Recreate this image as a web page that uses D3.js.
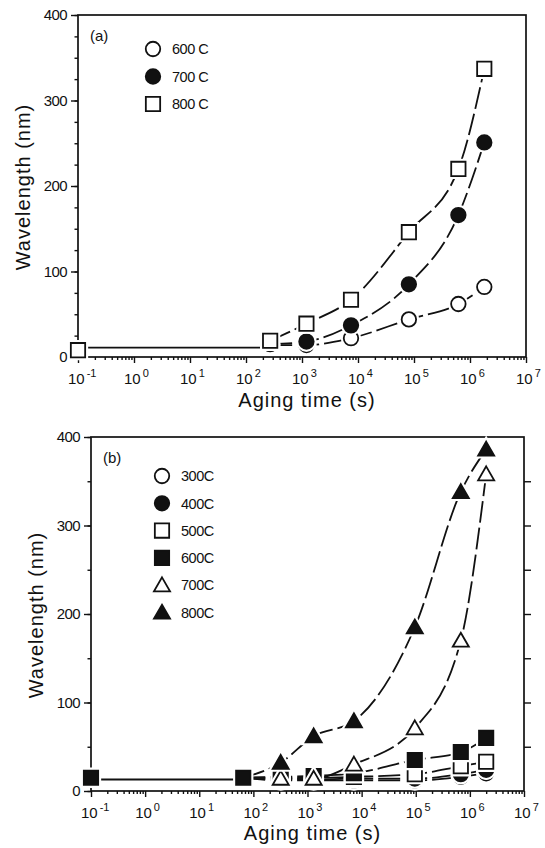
<!DOCTYPE html>
<html>
<head>
<meta charset="utf-8">
<script src="https://cdn.jsdelivr.net/npm/d3@7"></script>
<style>
  body { margin: 0; background: #fff; }
  svg text { font-family: "Liberation Sans", Arial, sans-serif; fill: #111; }
  .axis line { stroke: #111; stroke-width: 1.4; }
  .axis path { display: none; }
</style>
</head>
<body>
<div id="vis"></div>
<script>
// ---- panel (a) ----
var timesA = [270, 1200, 7500, 81000, 620000, 1800000];
var a600 = [14, 14, 22, 44, 62, 82];
var a700 = [15, 18, 37, 85, 166, 251];
var a800 = [19, 39, 67, 146, 220, 337];
var initA = [[0.1, 8]];
var baseA = [[0.1, 11], [270, 11]];
var labelsA = ['600 C', '700 C', '800 C'];

// ---- panel (b) ----
var timesB = [320, 1300, 7200, 96000, 680000, 2000000];
var b300 = [12, 12, 12, 12, 16, 20];
var b400 = [13, 13, 14, 14, 19, 24];
var b500 = [15, 15, 16, 19, 28, 33];
var b600 = [16, 17, 20, 35, 44, 60];
var b700 = [14, 14, 30, 71, 170, 358];
var b800 = [32, 62, 79, 185, 338, 386];
var initB = [[0.1, 15], [65, 15]];
var baseB = [[0.1, 13], [65, 13]];
var labelsB = ['300C', '400C', '500C', '600C', '700C', '800C'];

var decades = [-1, 0, 1, 2, 3, 4, 5, 6, 7];
var yTicks = [0, 100, 200, 300, 400];

var width = 545, height = 848;

var svg = d3.select('#vis')
            .append('svg')
            .attr('width', width)
            .attr('height', height);

var shapes = {
    circle:   {type: d3.symbolCircle, size: 165},
    square:   {type: d3.symbolSquare, size: 205},
    triangle: {type: d3.symbolTriangle, size: 112}
};

var marker = (g, kind, filled, x, y) => {
    var s = shapes[kind];
    var path = d3.symbol().type(s.type).size(s.size)();
    var dy = kind == 'triangle' ? 1.5 : 0;
    g.append('path')
     .attr('d', path)
     .attr('transform', `translate(${x},${y + dy})`)
     .attr('fill', 'white')
     .attr('stroke', 'white')
     .attr('stroke-width', 6);
    g.append('path')
     .attr('d', path)
     .attr('transform', `translate(${x},${y + dy})`)
     .attr('fill', filled ? '#111' : 'white')
     .attr('stroke', '#111')
     .attr('stroke-width', 1.8);
};

var drawPanel = (p) => {
    var xScale = d3.scaleLog().domain([0.1, 1e7]).range([p.left, p.right]);
    var yScale = d3.scaleLinear().domain([0, 400]).range([p.bottom, p.top]);
    var g = svg.append('g');

    // minor + major ticks on x
    var minor = [];
    decades.slice(0, -1).forEach((d) => {
        for (var k = 2; k < 10; k++) minor.push(k * Math.pow(10, d));
    });
    g.append('g').attr('class', 'axis')
     .attr('transform', `translate(0,${p.bottom})`)
     .call(d3.axisBottom(xScale).tickValues(minor).tickSize(3).tickFormat(''));
    g.append('g').attr('class', 'axis')
     .attr('transform', `translate(0,${p.bottom})`)
     .call(d3.axisBottom(xScale).tickValues(decades.map((d) => Math.pow(10, d))).tickSize(6).tickFormat(''));

    // y ticks
    g.append('g').attr('class', 'axis')
     .attr('transform', `translate(${p.left},0)`)
     .call(d3.axisLeft(yScale).tickValues(d3.range(0, 401, p.minorStep)).tickSize(3.5).tickFormat(''));
    g.append('g').attr('class', 'axis')
     .attr('transform', `translate(${p.left},0)`)
     .call(d3.axisLeft(yScale).tickValues(yTicks).tickSize(7).tickFormat(''));
    if (p.rightTicks) {
        g.append('g').attr('class', 'axis')
         .attr('transform', `translate(${p.right},0)`)
         .call(d3.axisRight(yScale).tickValues(d3.range(50, 400, 50)).tickSize(7).tickFormat(''));
    }

    // frame
    g.append('rect')
     .attr('x', p.left).attr('y', p.top)
     .attr('width', p.right - p.left).attr('height', p.bottom - p.top)
     .attr('fill', 'none').attr('stroke', '#111').attr('stroke-width', 1.7);

    // y tick labels
    g.selectAll('.ylab').data(yTicks).enter()
     .append('text')
     .attr('x', p.left - 11)
     .attr('y', (d) => yScale(d))
     .attr('dy', '0.36em')
     .attr('text-anchor', 'end')
     .style('font-size', '15px')
     .style('letter-spacing', '-0.6px')
     .text((d) => d);

    // x tick labels 10^n
    var xl = g.selectAll('.xlab').data(decades).enter()
              .append('text')
              .attr('x', (d) => xScale(Math.pow(10, d)) - 10)
              .attr('y', p.bottom + 27)
              .style('font-size', '15px');
    xl.append('tspan').text('10');
    xl.append('tspan')
      .attr('dx', 2)
      .attr('dy', -7)
      .style('font-size', '11px')
      .text((d) => d < 0 ? '-' + (-d) : d);

    // axis titles
    g.append('text')
     .attr('x', (p.left + p.right) / 2 + 5)
     .attr('y', p.bottom + p.titleGap)
     .attr('text-anchor', 'middle')
     .style('font-size', '20px')
     .style('letter-spacing', '1px')
     .text('Aging time (s)');
    g.append('text')
     .attr('transform', `translate(${p.left - 48},${(p.top + p.bottom) / 2 + 1}) rotate(-90)`)
     .attr('text-anchor', 'middle')
     .style('font-size', '20px')
     .style('letter-spacing', '1px')
     .text('Wavelength (nm)');

    // panel tag
    g.append('text')
     .attr('x', p.left + 12).attr('y', p.top + 26)
     .style('font-size', '15px')
     .text(p.tag);

    // solid base line
    var line = d3.line()
                 .x((d) => xScale(d[0]))
                 .y((d) => yScale(d[1]));
    g.append('path')
     .attr('d', line(p.base))
     .attr('fill', 'none')
     .attr('stroke', '#111')
     .attr('stroke-width', 1.8);

    // dashed curves
    var curve = d3.line()
                  .curve(d3.curveMonotoneX)
                  .x((d) => xScale(d[0]))
                  .y((d) => yScale(d[1]));
    p.series.forEach((s) => {
        var pts = p.start.concat(p.times.map((t, i) => [t, s.values[i]]));
        g.append('path')
         .attr('d', curve(pts))
         .attr('fill', 'none')
         .attr('stroke', '#111')
         .attr('stroke-width', 1.8)
         .style('stroke-dasharray', '22, 5');
    });

    // markers
    p.init.forEach((d) => marker(g, 'square', p.initFilled, xScale(d[0]), yScale(d[1])));
    p.series.forEach((s) => {
        p.times.forEach((t, i) => marker(g, s.kind, s.filled, xScale(t), yScale(s.values[i])));
    });

    // legend
    p.series.forEach((s, i) => {
        var ly = p.legendY + i * p.legendStep;
        marker(g, s.kind, s.filled, p.legendX, ly);
        g.append('text')
         .attr('x', p.legendX + 19)
         .attr('y', ly)
         .attr('dy', '0.36em')
         .style('font-size', '14.5px')
         .style('letter-spacing', '-0.5px')
         .text(s.label);
    });
};

drawPanel({
    tag: '(a)', left: 78, right: 526, top: 15, bottom: 357,
    minorStep: 25, rightTicks: false, titleGap: 50,
    times: timesA, base: baseA, init: initA, initFilled: false,
    start: [],
    legendX: 153, legendY: 49, legendStep: 27.5,
    series: [
        {label: labelsA[0], kind: 'circle', filled: false, values: a600},
        {label: labelsA[1], kind: 'circle', filled: true, values: a700},
        {label: labelsA[2], kind: 'square', filled: false, values: a800}
    ]
});

drawPanel({
    tag: '(b)', left: 91, right: 524, top: 437, bottom: 791,
    minorStep: 50, rightTicks: true, titleGap: 49,
    times: timesB, base: baseB, init: initB, initFilled: true,
    start: [initB[1]],
    legendX: 162, legendY: 476, legendStep: 27.3,
    series: [
        {label: labelsB[0], kind: 'circle', filled: false, values: b300},
        {label: labelsB[1], kind: 'circle', filled: true, values: b400},
        {label: labelsB[2], kind: 'square', filled: false, values: b500},
        {label: labelsB[3], kind: 'square', filled: true, values: b600},
        {label: labelsB[4], kind: 'triangle', filled: false, values: b700},
        {label: labelsB[5], kind: 'triangle', filled: true, values: b800}
    ]
});
</script>
</body>
</html>
